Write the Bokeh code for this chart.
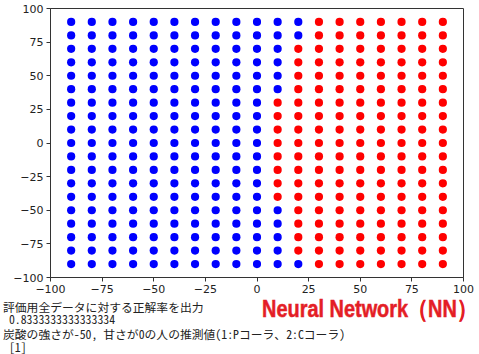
from bokeh.plotting import figure
from bokeh.models import FixedTicker, ColumnDataSource, Div
from bokeh.layouts import column
from bokeh.embed import file_html
from bokeh.resources import INLINE
import html

# ---- data ----
x_values = [-90, -80, -70, -60, -50, -40, -30, -20, -10, 0, 10, 20, 30, 40, 50, 60, 70, 80, 90]
y_values = [90, 80, 70, 60, 50, 40, 30, 20, 10, 0, -10, -20, -30, -40, -50, -60, -70, -80, -90]
# predicted class per grid cell, rows top (y=90) to bottom (y=-90), columns x=-90..90
# b = class 1 (blue), r = class 2 (red)
class_rows = [
    "bbbbbbbbbbbbrrrrrrr",
    "bbbbbbbbbbbbrrrrrrr",
    "bbbbbbbbbbbrrrrrrrr",
    "bbbbbbbbbbbrrrrrrrr",
    "bbbbbbbbbbbrrrrrrrr",
    "bbbbbbbbbbbrrrrrrrr",
    "bbbbbbbbbbrrrrrrrrr",
    "bbbbbbbbbbrrrrrrrrr",
    "bbbbbbbbbbrrrrrrrrr",
    "bbbbbbbbbbrrrrrrrrr",
    "bbbbbbbbbbrrrrrrrrr",
    "bbbbbbbbbbrrrrrrrrr",
    "bbbbbbbbbbrrrrrrrrr",
    "bbbbbbbbbbrrrrrrrrr",
    "bbbbbbbbbbbrrrrrrrr",
    "bbbbbbbbbbbrrrrrrrr",
    "bbbbbbbbbbbrrrrrrrr",
    "bbbbbbbbbbbrrrrrrrr",
    "bbbbbbbbbbbbrrrrrrr",
]
tick_values = [-100, -75, -50, -25, 0, 25, 50, 75, 100]
tick_labels = ["−100", "−75", "−50", "−25", "0", "25", "50", "75", "100"]

output_lines = [
    "評価用全データに対する正解率を出力",
    " 0.8333333333333334",
    "炭酸の強さが-50, 甘さが0の人の推測値(1:Pコーラ、2:Cコーラ)",
    " [1]",
]
title_text = "Neural Network（NN）"

color_map = {"b": "#0000ff", "r": "#ff0000"}

xs, ys, cs = [], [], []
for yi, row in zip(y_values, class_rows):
    for xi, c in zip(x_values, row):
        xs.append(xi)
        ys.append(yi)
        cs.append(color_map[c])
src = ColumnDataSource(dict(x=xs, y=ys, c=cs))

p = figure(
    frame_width=413, frame_height=269,
    min_border_left=50, min_border_right=16, min_border_top=8, min_border_bottom=19,
    x_range=(-100, 100), y_range=(-100, 100),
    output_backend="svg", toolbar_location=None,
)
p.scatter("x", "y", source=src, size=8.2, fill_color="c", line_color=None)

p.xgrid.visible = False
p.ygrid.visible = False
p.outline_line_color = "#333333"
p.outline_line_width = 1
p.background_fill_color = "white"
p.border_fill_color = "white"

overrides = {v: t for v, t in zip(tick_values, tick_labels)}
for ax in (p.xaxis[0], p.yaxis[0]):
    ax.ticker = FixedTicker(ticks=tick_values)
    ax.major_label_overrides = overrides
    ax.minor_tick_line_color = None
    ax.major_tick_in = 0
    ax.major_tick_out = 4
    ax.major_tick_line_color = "#333333"
    ax.axis_line_color = "#333333"
    ax.major_label_text_font = "DejaVu Sans"
    ax.major_label_text_font_size = "11px"
    ax.major_label_text_color = "#222222"
    ax.major_label_standoff = 3

# text panel below the chart
H2 = 58
line_tops = [5, 17, 32, 45]
spans = []
for txt, top in zip(output_lines, line_tops):
    spans.append(
        f'<span style="position:absolute;display:block;left:3px;top:{top}px;height:12px;'
        f"white-space:pre;font-family:'Noto Sans Mono CJK JP','Noto Sans CJK JP';"
        f'font-size:11.8px;line-height:12px;color:#222222;">{html.escape(txt)}</span>'
    )
spans.append(
    f'<span style="position:absolute;display:block;left:262px;top:1px;height:24px;white-space:pre;'
    f"font-family:'Liberation Sans';font-weight:bold;font-size:24px;line-height:24px;"
    f'color:#e41e26;-webkit-text-stroke:0.5px #e41e26;transform:scaleX(0.83);'
    f'transform-origin:0 0;">{html.escape(title_text)}</span>'
)
div_html = (f'<div style="position:relative;width:479px;height:{H2}px;overflow:visible;">'
            + "".join(spans) + "</div>")
d = Div(text=div_html, width=479, height=H2, margin=0)

layout = column(p, d, spacing=0)
open("out.html", "w").write(file_html(layout, INLINE))
